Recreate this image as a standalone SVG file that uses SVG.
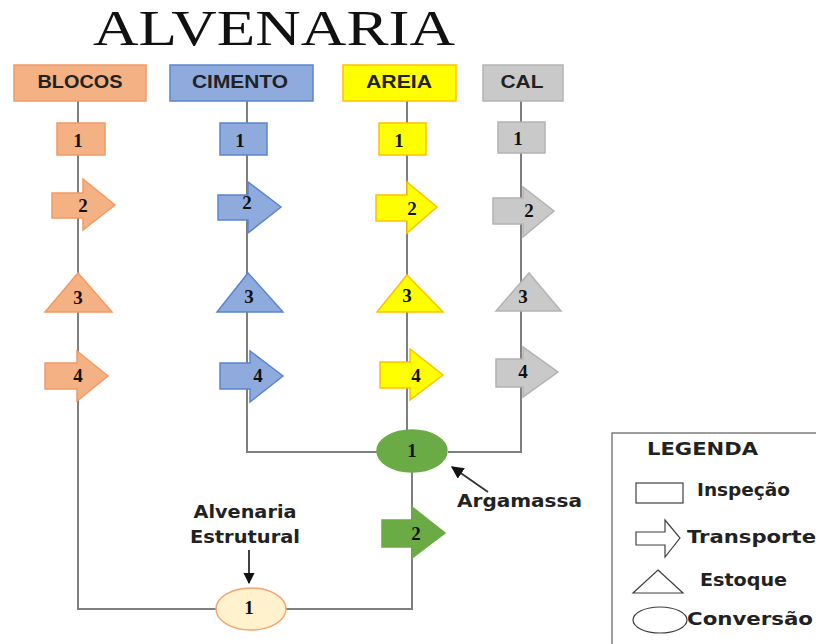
<svg xmlns="http://www.w3.org/2000/svg" width="816" height="644" viewBox="0 0 816 644">
<defs>
<style>
.ln{fill:none;stroke:#7f7f7f;stroke-width:2}
.hd{font-family:"Liberation Sans",Arial,sans-serif;font-weight:bold;font-size:18px;fill:#222;text-anchor:middle}
.num{font-family:"Liberation Serif","Times New Roman",serif;font-weight:bold;font-size:19px;fill:#111;text-anchor:middle}
.lbl{font-family:"DejaVu Sans",Verdana,sans-serif;font-weight:bold;font-size:18px;fill:#222}
.or{fill:#f4b183;stroke:#f19a64;stroke-width:1.5}
.bl{fill:#8faadc;stroke:#5b85cf;stroke-width:1.5}
.ye{fill:#ffff00;stroke:#ffc000;stroke-width:1.5}
.gy{fill:#c9c9c9;stroke:#b3b3b3;stroke-width:1.5}
.gr{fill:#6aab45;stroke:#6aab45;stroke-width:1.5}
.cr{fill:#fff2cc;stroke:#f4a46e;stroke-width:1.5}
.lg{fill:#fff;stroke:#404040;stroke-width:1.2}
</style>
<marker id="ah" viewBox="0 0 10 10" refX="9" refY="5" markerWidth="7" markerHeight="7" orient="auto">
<path d="M0,0 L10,5 L0,10 z" fill="#111"/>
</marker>
</defs>
<rect width="816" height="644" fill="#fff"/>
<text x="93" y="45" font-family="Liberation Serif,'Times New Roman',serif" font-size="50" fill="#111" textLength="362" lengthAdjust="spacingAndGlyphs">ALVENARIA</text>

<g id="connectors">
<polyline class="ln" points="78,101 78,609 216,609"/>
<polyline class="ln" points="286,609 412,609 412,472"/>
<polyline class="ln" points="247,101 247,452 377,452"/>
<polyline class="ln" points="407,101 407,430"/>
<polyline class="ln" points="521,101 521,452 448,452"/>
<line x1="249" y1="550" x2="249" y2="583" stroke="#111" stroke-width="1.6" marker-end="url(#ah)"/>
<line x1="488" y1="492" x2="452" y2="467" stroke="#333" stroke-width="1.8" marker-end="url(#ah)"/>
</g>

<g id="blocos">
<rect class="or" x="14" y="65" width="132" height="36"/>
<text class="hd" x="80" y="88" textLength="85" lengthAdjust="spacingAndGlyphs">BLOCOS</text>
</g>
<g id="cimento">
<rect class="bl" x="170" y="65" width="143" height="36"/>
<text class="hd" x="240" y="88" textLength="96" lengthAdjust="spacingAndGlyphs">CIMENTO</text>
</g>
<g id="areia">
<rect class="ye" x="343" y="65" width="113" height="36"/>
<text class="hd" x="399" y="88" textLength="66" lengthAdjust="spacingAndGlyphs">AREIA</text>
</g>
<g id="cal">
<rect class="gy" x="483" y="65" width="80" height="36"/>
<text class="hd" x="522" y="88" textLength="43" lengthAdjust="spacingAndGlyphs">CAL</text>
</g>

<g id="blocos-1"><rect class="or" x="57" y="123" width="48" height="32"/><text class="num" x="78" y="147">1</text></g>
<g id="blocos-2"><path class="or" d="M52,193 H83 V179 L115,205 L83,230 V218 H52 Z"/><text class="num" x="83" y="212">2</text></g>
<g id="blocos-3"><path class="or" d="M78,273 L112,312 H45 Z"/><text class="num" x="78" y="304">3</text></g>
<g id="blocos-4"><path class="or" d="M45,363 H77 V351 L108,376 L77,401 V389 H45 Z"/><text class="num" x="78" y="382">4</text></g>

<g id="cimento-1"><rect class="bl" x="220" y="123" width="47" height="32"/><text class="num" x="240" y="147">1</text></g>
<g id="cimento-2"><path class="bl" d="M218,195 H248 V182 L281,207 L248,233 V220 H218 Z"/><text class="num" x="247" y="209">2</text></g>
<g id="cimento-3"><path class="bl" d="M248,273 L283,312 H217 Z"/><text class="num" x="249" y="303">3</text></g>
<g id="cimento-4"><path class="bl" d="M220,363 H250 V351 L283,376 L250,402 V389 H220 Z"/><text class="num" x="258" y="382">4</text></g>

<g id="areia-1"><rect class="ye" x="379" y="123" width="47" height="32"/><text class="num" x="399" y="147">1</text></g>
<g id="areia-2"><path class="ye" d="M376,195 H407 V182 L437,207 L407,233 V221 H376 Z"/><text class="num" x="412" y="215">2</text></g>
<g id="areia-3"><path class="ye" d="M407,275 L443,312 H377 Z"/><text class="num" x="407" y="302">3</text></g>
<g id="areia-4"><path class="ye" d="M380,362 H410 V349 L443,375 L410,400 V388 H380 Z"/><text class="num" x="416" y="382">4</text></g>

<g id="cal-1"><rect class="gy" x="498" y="122" width="47" height="31"/><text class="num" x="518" y="145">1</text></g>
<g id="cal-2"><path class="gy" d="M493,198 H523 V187 L554,211 L523,237 V224 H493 Z"/><text class="num" x="529" y="217">2</text></g>
<g id="cal-3"><path class="gy" d="M529,273 L561,311 H496 Z"/><text class="num" x="523" y="303">3</text></g>
<g id="cal-4"><path class="gy" d="M496,359 H523 V347 L558,372 L523,397 V387 H496 Z"/><text class="num" x="523" y="378">4</text></g>

<g id="argamassa-1"><ellipse class="gr" cx="412" cy="451" rx="35" ry="21"/><text class="num" x="412" y="457">1</text></g>
<g id="argamassa-2"><path class="gr" d="M382,520 H412 V507 L445,533 L412,558 V547 H382 Z"/><text class="num" x="416" y="540">2</text></g>
<g id="alvenaria-1"><ellipse class="cr" cx="251" cy="609" rx="35" ry="21"/><text class="num" x="249" y="614">1</text></g>

<g id="label-alvenaria">
<text class="lbl" x="245" y="518" text-anchor="middle" textLength="103" lengthAdjust="spacingAndGlyphs">Alvenaria</text>
<text class="lbl" x="245" y="543" text-anchor="middle" textLength="110" lengthAdjust="spacingAndGlyphs">Estrutural</text>
</g>
<g id="label-argamassa">
<text class="lbl" x="457" y="507" textLength="125" lengthAdjust="spacingAndGlyphs">Argamassa</text>
</g>

<g id="legenda">
<rect x="612" y="433" width="214" height="220" fill="#fff" stroke="#7f7f7f" stroke-width="1.5"/>
<text class="lbl" x="647" y="455" font-size="17" textLength="111" lengthAdjust="spacingAndGlyphs">LEGENDA</text>
<rect class="lg" x="636" y="483" width="47" height="20"/>
<text class="lbl" x="697" y="496" font-size="17" textLength="93" lengthAdjust="spacingAndGlyphs">Inspeção</text>
<path class="lg" d="M636,532 H665 V520 L680,538 L665,557 V545 H636 Z"/>
<text class="lbl" x="687" y="543" font-size="17" textLength="129" lengthAdjust="spacingAndGlyphs">Transporte</text>
<path class="lg" d="M658,570 L683,593 H633 Z"/>
<text class="lbl" x="700" y="586" font-size="17" textLength="87" lengthAdjust="spacingAndGlyphs">Estoque</text>
<ellipse class="lg" cx="660" cy="620" rx="27" ry="13"/>
<text class="lbl" x="687" y="625" font-size="17" textLength="126" lengthAdjust="spacingAndGlyphs">Conversão</text>
</g>
</svg>
